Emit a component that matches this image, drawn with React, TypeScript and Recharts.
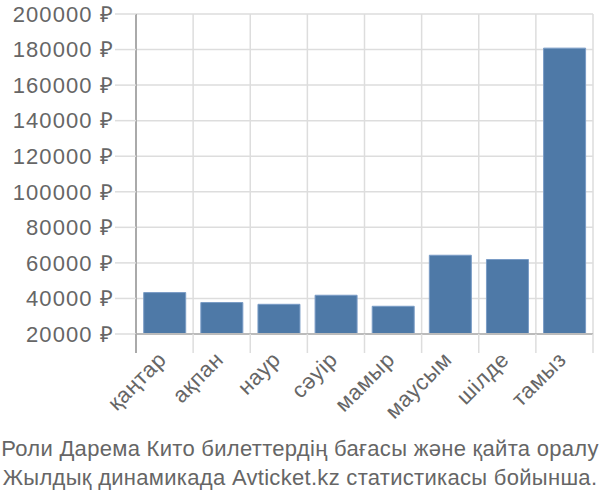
import { Bar, BarChart, CartesianGrid, XAxis, YAxis } from 'recharts';

const months = ['қаңтар', 'ақпан', 'наур', 'сәуір', 'мамыр', 'маусым', 'шілде', 'тамыз'];
const prices = [43300, 37700, 36700, 41800, 35600, 64300, 61900, 180800];
const yTicks = [20000, 40000, 60000, 80000, 100000, 120000, 140000, 160000, 180000, 200000];
const footer = [
  'Роли Дарема Кито билеттердің бағасы және қайта оралу',
  'Жылдық динамикада Avticket.kz статистикасы бойынша.'
];

const data = months.map((month, i) => ({ month, price: prices[i] }));

const W = 600;
const H = 420;
const LEFT = 136;
const RIGHT = 7;
const TOP = 14;
const XH = 86;
const band = (W - LEFT - RIGHT) / months.length;
const font = '"Liberation Sans", Arial, sans-serif';

function MonthTick(props: any) {
  const { x, y, payload, index } = props;
  const axisY = y - 8;
  const lx = x + 3;
  const ly = axisY + 27;
  return (
    <g>
      <line x1={x - band / 2} y1={axisY} x2={x - band / 2} y2={axisY + 19} stroke={index === 0 ? '#aaa' : '#ddd'} strokeWidth={index === 0 ? 2 : 1.5} />
      {index === months.length - 1 && (
        <line x1={x + band / 2} y1={axisY} x2={x + band / 2} y2={axisY + 19} stroke="#ddd" strokeWidth={1.5} />
      )}
      <text
        x={lx}
        y={ly}
        transform={`rotate(-45, ${lx}, ${ly})`}
        textAnchor="end"
        fontSize={22}
        letterSpacing={0.6}
        fill="#666"
        fontFamily={font}
      >
        {payload.value}
      </text>
    </g>
  );
}

export default function App() {
  return (
    <div style={{ position: 'absolute', left: 0, top: 0, width: W, height: 500, background: '#fff' }}>
      <BarChart width={W} height={H} data={data} margin={{ top: TOP, right: RIGHT, left: 0, bottom: 0 }} barCategoryGap="13.5%">
        <CartesianGrid
          stroke="#ddd"
          strokeWidth={1.5}
          verticalCoordinatesGenerator={({ offset }: any) =>
            months.map((_, i) => offset.left + (i + 1) * (offset.width / months.length))
          }
        />
        <XAxis
          dataKey="month"
          height={XH}
          interval={0}
          axisLine={{ stroke: '#bbb', strokeWidth: 2 }}
          tickLine={false}
          tick={<MonthTick />}
        />
        <YAxis
          width={LEFT}
          domain={[20000, 200000]}
          ticks={yTicks}
          interval={0}
          axisLine={{ stroke: '#aaa', strokeWidth: 2 }}
          tickLine={{ stroke: '#ddd', strokeWidth: 1.5 }}
          tickSize={21}
          tickMargin={1}
          tickFormatter={(v: number) => `${v} ₽`}
          tick={{ fontSize: 22, fill: '#666', fontFamily: font, letterSpacing: 1.1 }}
        />
        <Bar dataKey="price" fill="#4e79a7" stroke="#7a9cc6" strokeWidth={1} isAnimationActive={false} />
      </BarChart>
      <div
        style={{
          position: 'absolute',
          top: 434,
          left: 0,
          width: W,
          textAlign: 'center',
          fontFamily: font,
          fontSize: 22,
          letterSpacing: 0.3,
          lineHeight: '29px',
          color: '#666',
          whiteSpace: 'nowrap'
        }}
      >
        {footer.map((line) => (
          <div key={line}>{line}</div>
        ))}
      </div>
    </div>
  );
}
